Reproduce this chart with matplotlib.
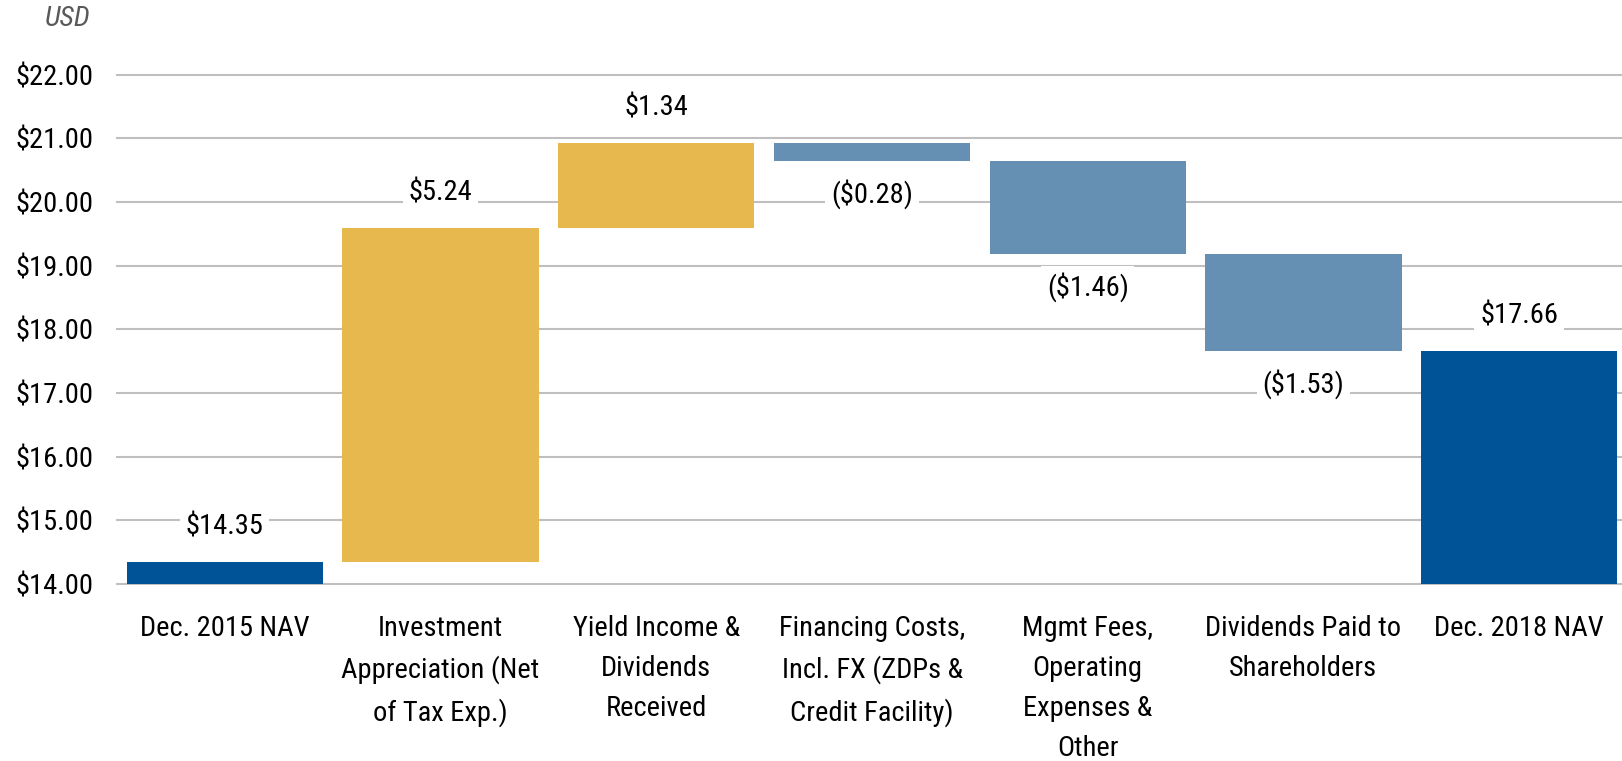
import matplotlib
matplotlib.use("Agg")
import matplotlib.pyplot as plt
from matplotlib import font_manager

categories = ["Dec. 2015 NAV", "Investment\nAppreciation (Net\nof Tax Exp.)",
              "Yield Income &\nDividends\nReceived", "Financing Costs,\nIncl. FX (ZDPs &\nCredit Facility)",
              "Mgmt Fees,\nOperating\nExpenses &\nOther", "Dividends Paid to\nShareholders",
              "Dec. 2018 NAV"]
changes = [14.35, 5.24, 1.34, -0.28, -1.46, -1.53, 17.66]
kinds = ["total", "up", "up", "down", "down", "down", "total"]
labels = ["$14.35", "$5.24", "$1.34", "($0.28)", "($1.46)", "($1.53)", "$17.66"]
yticks = [14, 15, 16, 17, 18, 19, 20, 21, 22]
ytick_labels = ["$%.2f" % v for v in yticks]

names = {f.name for f in font_manager.fontManager.ttflist}
fam = ["Roboto Condensed", "Archivo Narrow", "PT Sans Narrow", "Liberation Sans", "DejaVu Sans"]
fam = [f for f in fam if f in names] or ["DejaVu Sans"]
plt.rcParams['font.family'] = fam

FS = 20.5
colors = {"total": "#005396", "up": "#E6B84E", "down": "#6690B3"}
BASE = 14.0

fig = plt.figure(figsize=(16.22, 7.61), dpi=100)
ax = fig.add_axes([117/1622, (761-584)/761, 1510/1622, (584-74.7)/761])

running = 0.0
for i, (c, k, lab) in enumerate(zip(changes, kinds, labels)):
    if k == "total":
        bottom, top = BASE, c
        running = c
    elif k == "up":
        bottom, top = running, running + c
        running = top
    else:
        bottom, top = running + c, running
        running = bottom
    ax.bar(i, top - bottom, bottom=bottom, width=0.91, color=colors[k], zorder=2)
    if k == "down":
        ax.annotate(lab, (i, bottom), xytext=(0, -24), textcoords="offset points",
                    ha="center", va="center", fontsize=FS, zorder=4,
                    bbox=dict(facecolor="white", edgecolor="none", pad=4))
    else:
        ax.annotate(lab, (i, top), xytext=(0, 25), textcoords="offset points",
                    ha="center", va="center", fontsize=FS, zorder=4,
                    bbox=dict(facecolor="white", edgecolor="none", pad=4))

ax.set_xlim(-0.5, len(categories) - 0.5)
ax.set_ylim(14, 22)
ax.set_yticks(yticks)
ax.set_yticklabels(ytick_labels, fontsize=FS)
ax.set_xticks(range(len(categories)))
ax.set_xticklabels(categories, fontsize=FS, linespacing=1.62, va="top")
ax.tick_params(axis="y", length=0, pad=17)
ax.tick_params(axis="x", length=0, pad=22)
for s in ax.spines.values():
    s.set_visible(False)
ax.yaxis.grid(True, color="#BFBFBF", linewidth=1.5, zorder=0)
for gl in ax.get_ygridlines():
    gl.set_clip_on(False)
ax.set_axisbelow(True)

fig.text(90/1622, 1 - 19/761, "USD", ha="right", va="center", fontsize=FS,
         style="italic", color="#595959")

fig.savefig("out.png", dpi=100)
